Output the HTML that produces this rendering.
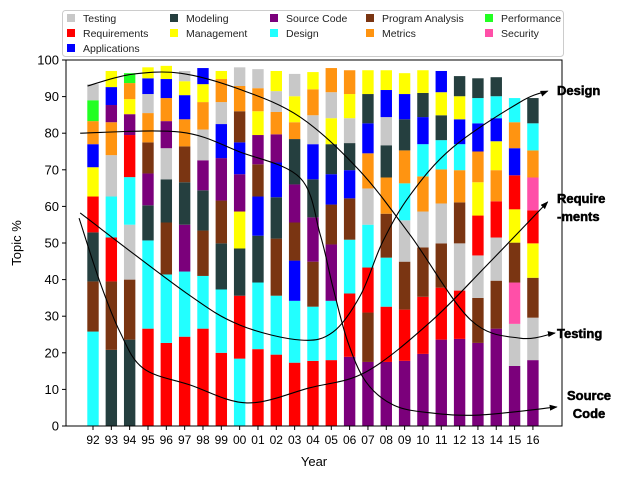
<!DOCTYPE html>
<html><head><meta charset="utf-8"><style>
body{margin:0;background:#fff;}
svg{display:block;font-family:"Liberation Sans","DejaVu Sans",sans-serif;}
</style></head><body>
<svg id="chart" width="625" height="478" viewBox="0 0 625 478" xmlns="http://www.w3.org/2000/svg">
<g id="bars"></g>
<g id="curves"></g>
<g id="axes"></g>
<g id="legend"></g>
<g font-weight="bold" font-size="13" fill="#000" stroke="#000" stroke-width="0.5">
<text x="557" y="95">Design</text>
<text x="557" y="203">Require</text>
<text x="557" y="221">-ments</text>
<text x="557" y="338">Testing</text>
<text x="589" y="400" text-anchor="middle">Source</text>
<text x="589" y="418" text-anchor="middle">Code</text>
</g>
</svg>
<script>
const categories = ["92","93","94","95","96","97","98","99","00","01","02","03","04","05","06","07","08","09","10","11","12","13","14","15","16"];
const testing      = [4.4,11.3,15.0,5.2,8.5,2.8,8.4,6.0,5.1,5.2,5.7,6.1,7.9,7.1,6.8,9.9,7.7,11.3,9.8,10.9,12.9,11.6,11.8,11.5,11.6];
const requirements = [9.8,12.0,11.5,26.6,22.7,24.4,26.6,20.0,17.2,21.0,19.5,17.3,17.8,18.0,17.3,12.3,15.1,14.0,15.6,14.2,13.2,10.9,9.9,9.3,9.0];
const applications = [6.3,4.9,0,4.3,5.2,6.6,4.4,9.3,8.7,10.7,9.5,11.0,9.6,8.3,7.7,8.2,7.4,6.9,7.4,5.8,6.8,7.7,6.3,7.4,0];
const modeling     = [13.4,20.8,23.6,9.6,11.8,11.6,11.0,12.6,12.9,12.8,11.3,12.4,10.4,8.2,7.4,8.0,8.8,8.5,6.6,6.8,5.5,5.4,5.2,0,6.9];
const management   = [8.0,4.4,4.1,3.0,3.6,3.8,4.9,2.2,10.1,6.5,5.5,7.1,4.7,7.1,6.6,6.5,5.4,5.7,6.2,6.3,6.3,9.1,7.9,9.1,9.4];
const sourceCode   = [0,4.7,5.7,8.7,7.4,12.8,8.2,11.6,10.2,8.0,7.7,10.4,12.1,15.4,18.9,17.5,17.5,17.8,19.7,23.6,23.8,22.7,26.6,16.4,18.0];
const design       = [25.8,11.2,13.0,24.1,18.7,17.8,14.4,17.3,18.4,18.2,16.1,16.9,14.8,16.2,14.7,11.7,13.4,10.1,8.8,8.0,7.1,6.9,6.0,6.6,7.4];
const programAnalysis = [13.7,18.7,16.4,8.5,14.2,9.8,12.4,11.7,8.5,8.8,15.6,10.4,12.3,10.9,11.3,13.5,12.0,13.1,13.5,12.1,11.2,12.3,13.1,10.9,10.9];
const metrics      = [6.3,9.0,4.4,8.0,6.3,7.4,7.5,6.3,6.9,6.3,6.1,4.6,7.1,6.6,6.5,9.6,9.9,9.0,9.6,9.3,8.8,8.4,8.5,7.1,7.4];
const performance  = [5.7,0,2.7,0,0,0,0,0,0,0,0,0,0,0,0,0,0,0,0,0,0,0,0,0,0];
const security     = [0,0,0,0,0,0,0,0,0,0,0,0,0,0,0,0,0,0,0,0,0,0,0,11.3,9.0];
// stacking order per bar (bottom to top), series codes
const stackOrder = ["DPMRGAXFT","MPRDTXSAG","MPTDRSGXF","RDMSPXTAG","RDPMTSXAG","RDSMPXAGT","RDPMSTXGA","RDMPSATXG","DRMGSAPXT","RDMAPSGXT","RDPMASXTG","RDAPSMXGT","RDPSMATXG","RDSPAMGTX","SRDPAMTGX","SPRDTXAMG","SRDPXMTAG","SRPTDXMAG","SRPTXDAMG","SRPTXDMGA","SRTPXDAGM","SPTRGXADM","SPTRXGADM","STYPGRAXD","STPGRYXDM"];
const yTicks = [0,10,20,30,40,50,60,70,80,90,100];
// annotation trend curves in data units [barIndex, percent]
const curveTesting = [[-0.3,92.9],[2,96],[4.75,96.4],[8,92],[11.3,84.4],[14.5,70],[17.3,52.2],[20.6,29],[23.3,24],[25.2,25.4]];
const curveSource = [[-0.7,80],[4.75,80.3],[8,74.9],[11.3,67.8],[12.4,52.2],[13.1,37.7],[13.9,23],[14.9,12],[16.4,5.7],[18.4,3.6],[21.1,3],[25.3,5.2]];
const curveDesign = [[-0.7,58.2],[5.1,36.3],[8,27.6],[11.3,23.5],[13.1,25.7],[14.6,35.8],[15.8,50.3],[17.3,63.1],[19.6,76],[23.3,88.5],[24.8,91.5]];
const curveReq = [[-0.76,56.8],[0.38,39.3],[1.47,25.7],[2.73,15.8],[5.3,11.2],[8.4,6.3],[11.8,10.4],[14.9,14.8],[18.4,28.4],[21.5,44],[24.8,61.2]];

const seriesInfo = {
 T:{name:"Testing",vals:testing,color:"#c8c8c8"},
 R:{name:"Requirements",vals:requirements,color:"#ff0000"},
 A:{name:"Applications",vals:applications,color:"#0000ff"},
 M:{name:"Modeling",vals:modeling,color:"#253f3f"},
 G:{name:"Management",vals:management,color:"#ffff00"},
 S:{name:"Source Code",vals:sourceCode,color:"#7b007b"},
 D:{name:"Design",vals:design,color:"#22ffff"},
 P:{name:"Program Analysis",vals:programAnalysis,color:"#7a3512"},
 X:{name:"Metrics",vals:metrics,color:"#ff9411"},
 F:{name:"Performance",vals:performance,color:"#22ff22"},
 Y:{name:"Security",vals:security,color:"#ff4fa8"}
};
const NS="http://www.w3.org/2000/svg";
const X0=93, DX=18.33, Y0=426, Y100=60, BW=11.4;
const AX_L=66, AX_R=562;
function xScale(i){return X0+DX*i;}
function yScale(v){return Y0-(Y0-Y100)*v/100;}
function mk(tag,attrs,parent){const e=document.createElementNS(NS,tag);for(const k in attrs)e.setAttribute(k,attrs[k]);parent.appendChild(e);return e;}

const gb=document.getElementById("bars");
categories.forEach((c,i)=>{
  let cum=0;
  for(const code of stackOrder[i]){
    const s=seriesInfo[code]; const v=s.vals[i]; if(!v) continue;
    const r=mk("rect",{x:xScale(i)-BW/2,y:yScale(cum+v),width:BW,height:yScale(cum)-yScale(cum+v),fill:s.color},gb);
    
    
    cum+=v;
  }
});

// curves
const gc=document.getElementById("curves");
mk("defs",{},gc).innerHTML='<marker id="arr" markerWidth="8" markerHeight="6" refX="7" refY="3" orient="auto" markerUnits="userSpaceOnUse"><path d="M0,0 L8,3 L0,6 z" fill="#000"/></marker>';
function crPath(pts){
  const p=pts.map(q=>[xScale(q[0]),yScale(q[1])]);
  let d="M"+p[0][0]+","+p[0][1];
  for(let i=0;i<p.length-1;i++){
    const p0=p[i-1]||p[i],p1=p[i],p2=p[i+1],p3=p[i+2]||p2;
    const c1=[p1[0]+(p2[0]-p0[0])/6,p1[1]+(p2[1]-p0[1])/6];
    const c2=[p2[0]-(p3[0]-p1[0])/6,p2[1]-(p3[1]-p1[1])/6];
    d+=" C"+c1[0]+","+c1[1]+" "+c2[0]+","+c2[1]+" "+p2[0]+","+p2[1];
  }
  return d;
}
[["testing",curveTesting],["source-code",curveSource],["design",curveDesign],["requirements",curveReq]].forEach(([n,pts])=>{
  const e=mk("path",{d:crPath(pts),fill:"none",stroke:"#000","stroke-width":1.1,"marker-end":"url(#arr)"},gc);
  
  
});

// axes
const ga=document.getElementById("axes");
const frame=mk("rect",{x:AX_L,y:Y100,width:AX_R-AX_L,height:Y0-Y100,fill:"none",stroke:"#000","stroke-width":1},ga);


yTicks.forEach(t=>{
  const y=yScale(t);
  mk("line",{x1:AX_L-4,x2:AX_L,y1:y,y2:y,stroke:"#000"},ga);
  const tx=mk("text",{x:AX_L-7,y:y+4.5,"text-anchor":"end","font-size":13},ga);
  tx.textContent=t;
  
  
});
categories.forEach((c,i)=>{
  const x=xScale(i);
  mk("line",{x1:x,x2:x,y1:Y0,y2:Y0+4,stroke:"#000"},ga);
  const tx=mk("text",{x:x,y:Y0+18,"text-anchor":"middle","font-size":12},ga);
  tx.textContent=c;
  
  
});
const xt=mk("text",{x:(AX_L+AX_R)/2,y:466,"text-anchor":"middle","font-size":13},ga);
xt.textContent="Year";


const yt=mk("text",{x:0,y:0,"text-anchor":"middle","font-size":13,transform:"translate(21,243) rotate(-90)"},ga);
yt.textContent="Topic %";



// legend
const gl=document.getElementById("legend");
const lb=mk("rect",{x:62.5,y:10.5,width:501,height:46,rx:3,fill:"#fff","fill-opacity":0.85,stroke:"#cccccc"},gl);


const legendOrder=["T","R","A","M","G","S","D","P","X","F","Y"];
const colX=[67,170,270,366,485], rowY=[18,33,48];
const colOf=[0,0,0,1,1,2,2,3,3,4,4], rowOf=[0,1,2,0,1,0,1,0,1,0,1];
legendOrder.forEach((code,k)=>{
  const s=seriesInfo[code], x=colX[colOf[k]], y=rowY[rowOf[k]];
  const g=mk("g",{},gl);
  
  
  mk("rect",{x:x,y:y-4,width:8,height:8,fill:s.color},g);
  const t=mk("text",{x:x+16,y:y+4,"font-size":10.5,fill:"#222"},g);
  t.textContent=s.name;
});
</script>
</body></html>
